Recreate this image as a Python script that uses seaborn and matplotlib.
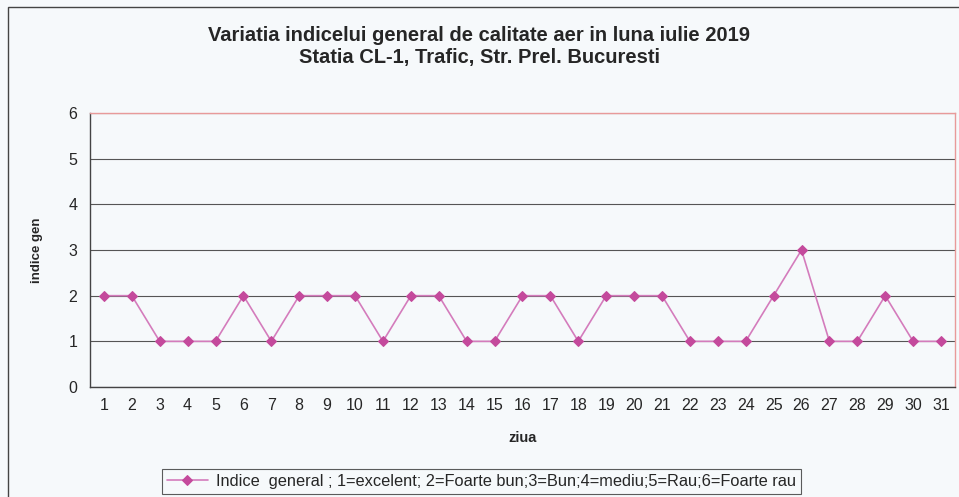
import numpy as np
import pandas as pd
import matplotlib
matplotlib.use("Agg")
import matplotlib.pyplot as plt
import matplotlib.patches as mpatches
import seaborn as sns

# daily values for July 2019
days = list(range(1, 32))
indice = [2, 2, 1, 1, 1, 2, 1, 2, 2, 2, 1, 2, 2, 1, 1, 2,
          2, 1, 2, 2, 2, 1, 1, 1, 2, 3, 1, 1, 2, 1, 1]
y_ticks = [0, 1, 2, 3, 4, 5, 6]

title = "Variatia indicelui general de calitate aer in luna iulie 2019\nStatia CL-1, Trafic, Str. Prel. Bucuresti"
legend_label = "Indice  general ; 1=excelent; 2=Foarte bun;3=Bun;4=mediu;5=Rau;6=Foarte rau"

df = pd.DataFrame({"ziua": days, "indice": indice})

sns.set_style("white")
plt.rcParams["font.family"] = ["Liberation Sans", "DejaVu Sans"]

bg = "#f6f9fb"
fig = plt.figure(figsize=(9.59, 4.97), dpi=100, facecolor=bg)
ax = fig.add_axes([0.0938, 0.2213, 0.9020, 0.5513])
ax.set_facecolor(bg)

sns.lineplot(data=df, x="ziua", y="indice", ax=ax, color="#d47cbc",
             linewidth=1.2, marker="D", markersize=5,
             markerfacecolor="#c44a9c", markeredgecolor="#c44a9c",
             label=legend_label, legend=False)

ax.set_xlim(0.5, 31.5)
ax.set_ylim(0, 6)
ax.set_yticks(y_ticks)
ax.set_xticks(days)
ax.set_xticks(np.arange(0.5, 32, 1), minor=True)
ax.tick_params(axis="x", which="major", length=0, labelsize=11.5, pad=8)
ax.tick_params(axis="x", which="minor", length=4, width=0.8, color="#333333", direction="out")
ax.tick_params(axis="y", length=5, width=0.8, color="#333333", direction="out", labelsize=11.5, pad=4)
ax.grid(axis="y", color="#555555", linewidth=0.8)
ax.set_axisbelow(True)

for s in ["left", "bottom"]:
    ax.spines[s].set_color("#444444")
    ax.spines[s].set_linewidth(1.0)
for s in ["top", "right"]:
    ax.spines[s].set_visible(True)
    ax.spines[s].set_color("#e89a9a")
    ax.spines[s].set_linewidth(1.0)

ax.set_xlabel("ziua", fontsize=10.5, fontweight="bold", labelpad=13)
ax.set_ylabel("indice gen", fontsize=9.5, fontweight="bold", labelpad=18)

fig.suptitle(title, x=0.5, y=0.948, fontsize=14.5, fontweight="bold", linespacing=1.22)

handles, labels = ax.get_legend_handles_labels()
leg = fig.legend(handles, labels, loc="center", bbox_to_anchor=(0.502, 0.032),
                 fontsize=11.8, frameon=True, fancybox=False, edgecolor="#333333",
                 handlelength=2.5, borderpad=0.3, handletextpad=0.5)
leg.get_frame().set_linewidth(0.8)
leg.get_frame().set_facecolor(bg)

# outer chart border
fig.patches.append(mpatches.Rectangle((8 / 959, -0.1), 1.2, 0.1 + 490 / 497,
                                      transform=fig.transFigure, fill=False,
                                      edgecolor="#444444", linewidth=1.0))

fig.savefig("out.png", dpi=100, facecolor=bg)
